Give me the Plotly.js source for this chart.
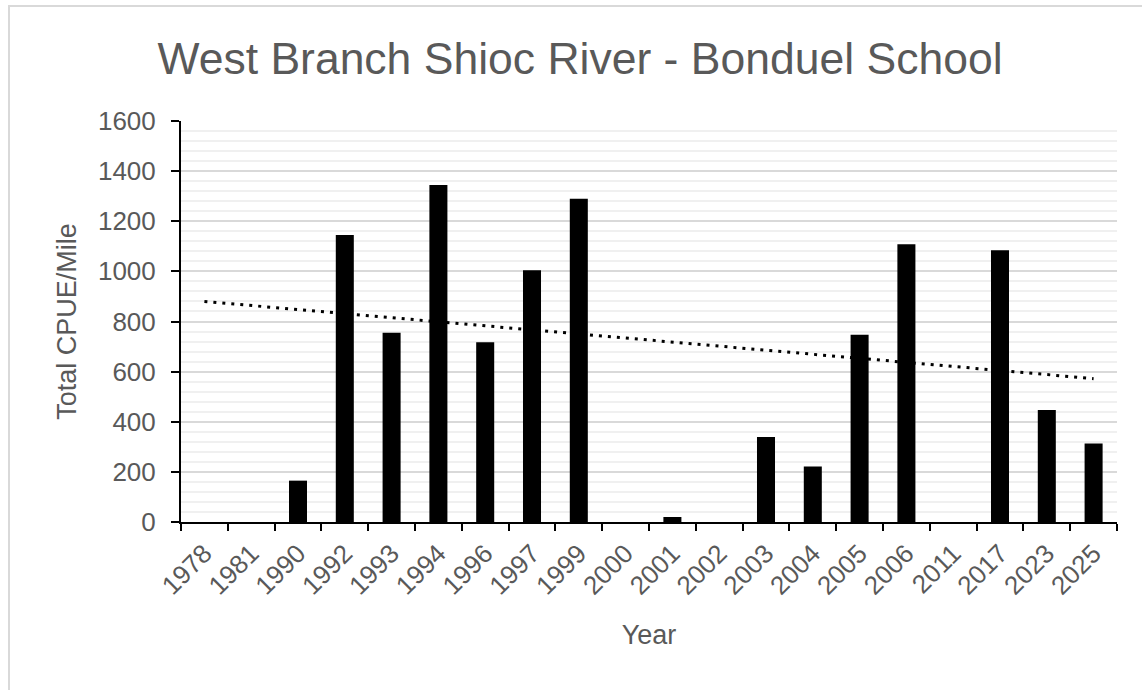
<!DOCTYPE html>
<html>
<head>
<meta charset="utf-8">
<script src="https://cdn.plot.ly/plotly-3.0.1.min.js"></script>
<style>
  html, body { margin: 0; padding: 0; background: #fff; }
  #wrap { position: relative; width: 1142px; height: 690px; overflow: hidden; }
  #chart { position: absolute; left: 0; top: 0; width: 1142px; height: 690px; }
  #frame { position: absolute; left: 8px; top: 5px; width: 1200px; height: 800px;
           border-top: 2px solid #d9d9d9; border-left: 2px solid #d9d9d9; pointer-events: none; }
</style>
</head>
<body>
<div id="wrap">
  <div id="chart"></div>
  <div id="frame"></div>
</div>
<script>
// Data
const years = ['1978','1981','1990','1992','1993','1994','1996','1997','1999','2000',
               '2001','2002','2003','2004','2005','2006','2011','2017','2023','2025'];
const cpue  = [0, 0, 165, 1145, 755, 1345, 717, 1004, 1290, 0,
               20, 0, 339, 221, 747, 1108, 0, 1084, 447, 313];
// Linear trendline end points (as drawn in the reference)
const trendYears = ['1978', '2025'];
const trendValues = [880, 572];
const yTickVals = [0, 200, 400, 600, 800, 1000, 1200, 1400, 1600];

const gray = '#595959';
const font = 'Liberation Sans, Arial, sans-serif';

const traces = [
  {
    type: 'bar',
    x: years,
    y: cpue,
    marker: { color: '#000000', line: { color: '#000000', width: 0 } },
    hoverinfo: 'x+y',
    showlegend: false
  },
  {
    type: 'scatter',
    mode: 'lines',
    x: trendYears,
    y: trendValues,
    line: { color: '#000000', width: 3, dash: '3px,6px' },
    hoverinfo: 'skip',
    showlegend: false
  }
];

const layout = {
  width: 1142,
  height: 690,
  paper_bgcolor: 'rgba(0,0,0,0)',
  plot_bgcolor: '#ffffff',
  margin: { l: 181, r: 25, t: 121, b: 168 },
  font: { family: font, color: gray },
  bargap: 0.615,
  title: {
    text: 'West Branch Shioc River - Bonduel School',
    font: { family: font, size: 44.5, color: gray },
    x: 580 / 1142, xref: 'container', xanchor: 'center',
    y: 1 - 58 / 690, yref: 'container', yanchor: 'middle'
  },
  xaxis: {
    type: 'category',
    tickangle: -45,
    tickson: 'boundaries',
    ticks: 'outside',
    ticklen: 7,
    tickwidth: 2,
    tickcolor: '#000000',
    showline: true,
    linecolor: '#000000',
    linewidth: 2,
    showgrid: false,
    zeroline: false,
    ticklabelstandoff: 4,
    tickfont: { family: font, size: 26, color: gray },
    title: { text: 'Year', font: { family: font, size: 27, color: gray }, standoff: 26 }
  },
  yaxis: {
    range: [0, 1600],
    tickmode: 'array',
    tickvals: yTickVals,
    ticktext: yTickVals.map(String),
    ticks: 'outside',
    ticklen: 8,
    tickwidth: 2,
    tickcolor: '#000000',
    showline: true,
    linecolor: '#000000',
    linewidth: 2,
    showgrid: true,
    gridcolor: '#d9d9d9',
    gridwidth: 2,
    zeroline: false,
    minor: { dtick: 40, showgrid: true, gridcolor: '#f0f0f0', gridwidth: 2, ticks: '' },
    ticklabelstandoff: 10,
    tickfont: { family: font, size: 26, color: gray },
    title: { text: 'Total CPUE/Mile', font: { family: font, size: 27, color: gray }, standoff: 14 }
  }
};

Plotly.newPlot('chart', traces, layout, { displayModeBar: false, staticPlot: true });
</script>
</body>
</html>
